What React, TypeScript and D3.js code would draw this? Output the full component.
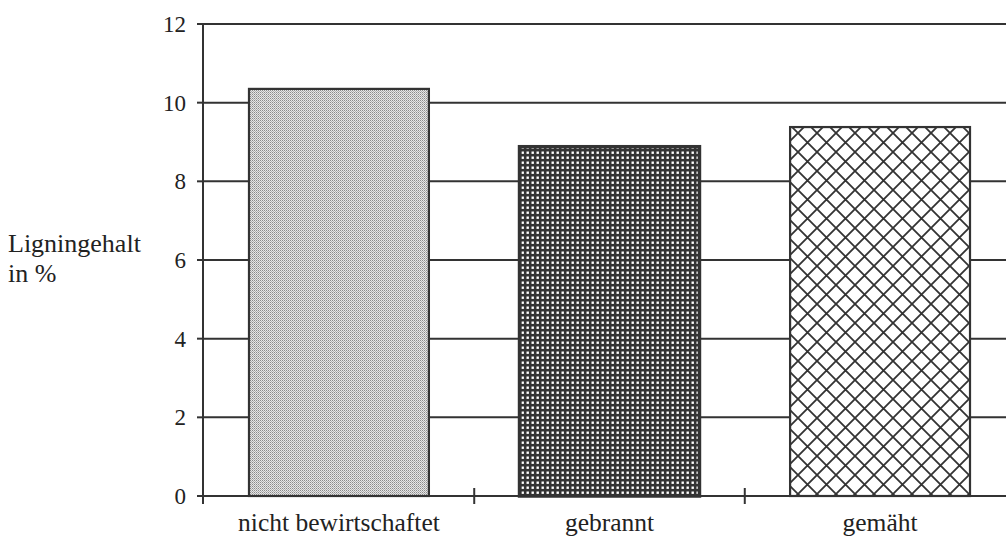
import React, { useEffect, useRef } from 'react';
import * as d3 from 'd3';

const categories = ['nicht bewirtschaftet', 'gebrannt', 'gemäht'];
const values = [10.35, 8.88, 9.38];
const yTicks = [0, 2, 4, 6, 8, 10, 12];
const patterns = ['dots-light', 'dots-dark', 'cross'];

export default function App() {
  const svgRef = useRef<SVGSVGElement>(null);

  useEffect(() => {
    if (!svgRef.current) return;
    const width = 1006;
    const left = 203;
    const right = 1016;
    const top = 24;
    const bottom = 496;
    const font = '"Liberation Serif", serif';

    const svg = d3.select(svgRef.current);
    svg.selectAll('*').remove();

    const defs = svg.append('defs');

    // light stipple
    const p1 = defs.append('pattern').attr('id', 'dots-light')
      .attr('patternUnits', 'userSpaceOnUse').attr('width', 2).attr('height', 2);
    p1.append('rect').attr('width', 2).attr('height', 2).attr('fill', '#e6e6e6');
    p1.append('rect').attr('width', 1).attr('height', 1).attr('fill', '#8a8a8a');
    p1.append('rect').attr('x', 1).attr('y', 1).attr('width', 1).attr('height', 1).attr('fill', '#b0b0b0');

    // dark with white dots
    const p2 = defs.append('pattern').attr('id', 'dots-dark')
      .attr('patternUnits', 'userSpaceOnUse').attr('width', 5).attr('height', 5);
    p2.append('rect').attr('width', 5).attr('height', 5).attr('fill', '#333');
    p2.append('rect').attr('x', 1.5).attr('y', 1.5).attr('width', 2.4).attr('height', 2.4).attr('fill', '#fff');

    // cross hatch
    const p3 = defs.append('pattern').attr('id', 'cross')
      .attr('patternUnits', 'userSpaceOnUse').attr('width', 19).attr('height', 19);
    p3.append('rect').attr('width', 19).attr('height', 19).attr('fill', '#fff');
    p3.append('path').attr('d', 'M0,0L19,19M19,0L0,19M-1,18L1,20M18,-1L20,1M-1,1L1,-1M18,20L20,18')
      .attr('stroke', '#333').attr('stroke-width', 1.8);

    const x = d3.scaleBand<string>().domain(categories).range([left, right]).paddingInner(0.335).paddingOuter(0.17);
    const y = d3.scaleLinear().domain([0, 12]).range([bottom, top]);

    const g = svg.append('g');

    // gridlines
    g.selectAll('.grid').data(yTicks.filter(d => d > 0)).enter().append('line')
      .attr('x1', left).attr('x2', width)
      .attr('y1', d => y(d)).attr('y2', d => y(d))
      .attr('stroke', '#333').attr('stroke-width', 2);

    // bars
    g.selectAll('.bar').data(values).enter().append('rect')
      .attr('x', (d, i) => x(categories[i])!)
      .attr('width', x.bandwidth())
      .attr('y', d => y(d))
      .attr('height', d => bottom - y(d))
      .attr('fill', (d, i) => `url(#${patterns[i]})`)
      .attr('stroke', '#333')
      .attr('stroke-width', (d, i) => (i === 1 ? 3.5 : 2.2));

    // axes
    g.append('line').attr('x1', left).attr('x2', left).attr('y1', top).attr('y2', bottom + 8)
      .attr('stroke', '#333').attr('stroke-width', 2);
    g.append('line').attr('x1', left).attr('x2', width).attr('y1', bottom).attr('y2', bottom)
      .attr('stroke', '#333').attr('stroke-width', 2);
    g.selectAll('.ytick').data(yTicks).enter().append('line')
      .attr('x1', left - 6).attr('x2', left)
      .attr('y1', d => y(d)).attr('y2', d => y(d))
      .attr('stroke', '#333').attr('stroke-width', 2);
    g.selectAll('.ylab').data(yTicks).enter().append('text')
      .attr('x', left - 17).attr('y', d => y(d)).attr('dy', '0.35em')
      .attr('text-anchor', 'end')
      .style('font-family', font).style('font-size', '23px').style('fill', '#222')
      .text(d => d);

    // x ticks between categories
    const step = x.step();
    const xTickPos = categories.slice(1).map(c => x(c)! - (step - x.bandwidth()) / 2);
    g.selectAll('.xtick').data(xTickPos).enter().append('line')
      .attr('x1', d => d).attr('x2', d => d)
      .attr('y1', bottom - 8).attr('y2', bottom + 8)
      .attr('stroke', '#333').attr('stroke-width', 2);

    g.selectAll('.xlab').data(categories).enter().append('text')
      .attr('x', d => x(d)! + x.bandwidth() / 2).attr('y', 531)
      .attr('text-anchor', 'middle')
      .style('font-family', font).style('font-size', '25.5px').style('fill', '#222')
      .text(d => d);

    const yl = g.append('text')
      .style('font-family', font).style('font-size', '26px').style('fill', '#222');
    yl.append('tspan').attr('x', 8).attr('y', 252).text('Ligningehalt');
    yl.append('tspan').attr('x', 8).attr('y', 282).text('in %');
  }, []);

  return (
    <svg ref={svgRef} width={1006} height={543}
      style={{ position: 'absolute', left: 0, top: 0, background: '#fff' }} />
  );
}
